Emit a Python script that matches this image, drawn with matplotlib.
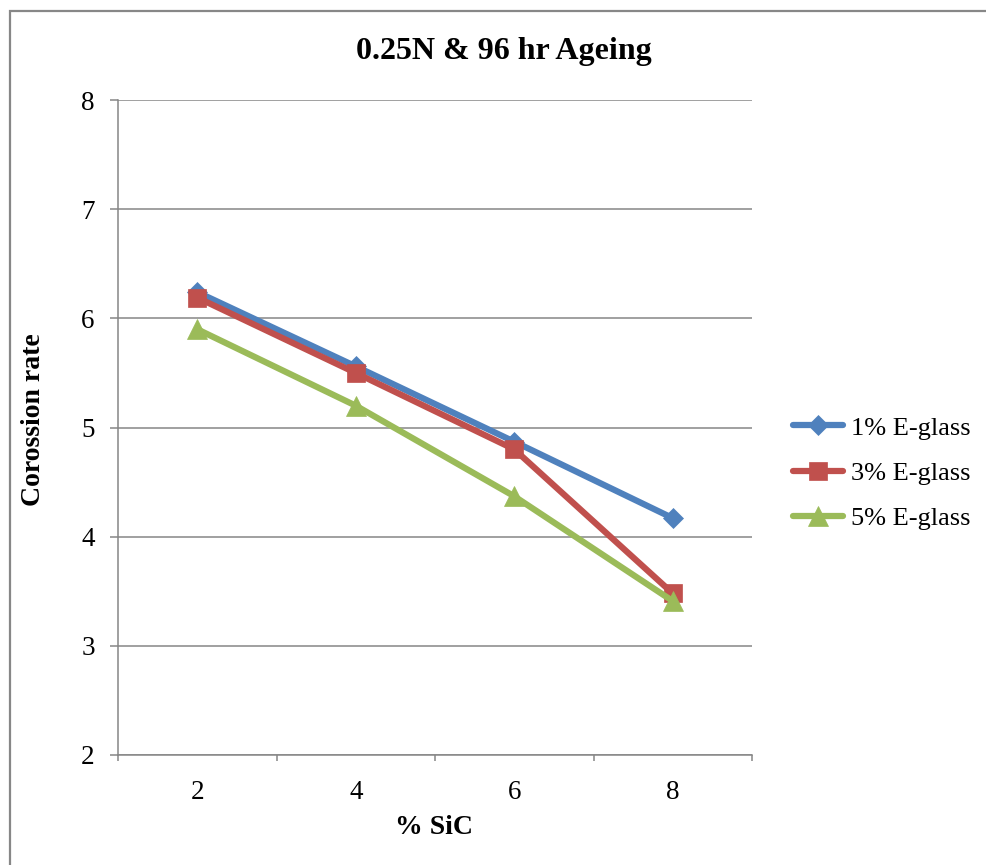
import matplotlib
matplotlib.use("Agg")
import matplotlib.pyplot as plt
from matplotlib.patches import Rectangle
from matplotlib.ticker import FixedLocator

plt.rcParams['font.family'] = ['Liberation Serif', 'DejaVu Serif']

sic_pct = ["2", "4", "6", "8"]
glass_1 = [6.24, 5.56, 4.87, 4.17]
glass_3 = [6.19, 5.50, 4.80, 3.48]
glass_5 = [5.90, 5.20, 4.37, 3.41]
series_names = ["1% E-glass", "3% E-glass", "5% E-glass"]
y_ticks = [2, 3, 4, 5, 6, 7, 8]

W, H = 986, 865
fig = plt.figure(figsize=(W / 100, H / 100), dpi=100)
fig.patch.set_facecolor("white")

# outer chart border
fig.patches.append(Rectangle((9.5 / W, -0.2), 1.5, 1.2 - 10.5 / H,
                             transform=fig.transFigure, fill=False,
                             edgecolor="#878787", linewidth=1.6, zorder=0))

ax = fig.add_axes([118 / W, 1 - 755 / H, 634 / W, 655 / H])
grid_c = "#868686"

x = list(range(1, len(sic_pct) + 1))
styles = [
    (glass_1, "#4F81BD", "D", 10.5),
    (glass_3, "#C0504D", "s", 13.5),
    (glass_5, "#9BBB59", "^", 15),
]
for (vals, col, mk, ms), name in zip(styles, series_names):
    ax.plot(x, vals, color=col, lw=4.5, marker=mk, ms=ms,
            markerfacecolor=col, markeredgecolor=col, mew=0.5,
            label=name, solid_capstyle="round", solid_joinstyle="round",
            zorder=3)

ax.set_xlim(0.5, len(sic_pct) + 0.5)
ax.set_ylim(min(y_ticks), max(y_ticks))
ax.set_yticks(y_ticks)
ax.set_yticklabels([str(v) for v in y_ticks])
ax.set_xticks(x)
ax.set_xticklabels(sic_pct)
ax.xaxis.set_minor_locator(FixedLocator([i + 0.5 for i in range(0, len(sic_pct) + 1)]))

ax.tick_params(axis="x", which="major", length=0, pad=18, labelsize=19.5)
ax.tick_params(axis="x", which="minor", length=4.5, width=1.1, color=grid_c, direction="out")
ax.tick_params(axis="y", which="major", length=5.8, width=1.1, color=grid_c,
               pad=11, labelsize=19.5, direction="out")

ax.grid(axis="y", color=grid_c, lw=1.1, zorder=0)
ax.set_axisbelow(True)
for s in ("top", "right"):
    ax.spines[s].set_visible(False)
for s in ("left", "bottom"):
    ax.spines[s].set_color(grid_c)
    ax.spines[s].set_linewidth(1.1)

fig.text(504 / W, 1 - 52 / H, "0.25N & 96 hr Ageing", ha="center", va="center",
         fontsize=23, fontweight="bold")
fig.text(434 / W, 1 - 828 / H, "% SiC", ha="center", va="center",
         fontsize=20, fontweight="bold")
fig.text(34 / W, 1 - 420 / H, "Corossion rate", ha="center", va="center",
         rotation=90, fontsize=20, fontweight="bold")

fig.legend(loc="center left", bbox_to_anchor=(793 / W, 1 - 473 / H),
           frameon=False, fontsize=19, handlelength=1.9, handletextpad=0.3,
           labelspacing=0.82, borderpad=0, borderaxespad=0)

fig.savefig("out.png", dpi=100, facecolor="white")
